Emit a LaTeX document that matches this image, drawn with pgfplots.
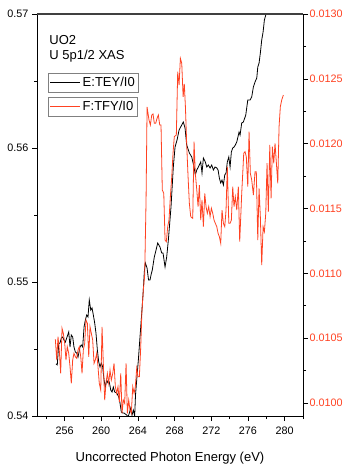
\documentclass[border=0pt]{standalone}
\usepackage{fontspec}
\setmainfont{Liberation Sans}
\usepackage{pgfplots}
\usepackage{pgfplotstable}
\pgfplotsset{compat=1.18}
\definecolor{tfyred}{RGB}{255,66,34}

% TEY/I0 (left axis)
\pgfplotstableread{
E      I
255.07 0.54388
255.21 0.54381
255.37 0.54540
255.51 0.54545
255.65 0.54582
255.80 0.54590
255.94 0.54567
256.09 0.54552
256.24 0.54582
256.46 0.54627
256.60 0.54515
256.74 0.54604
256.89 0.54590
257.03 0.54515
257.18 0.54478
257.33 0.54470
257.47 0.54440
257.69 0.54515
257.83 0.54530
257.98 0.54515
258.13 0.54664
258.27 0.54716
258.42 0.54754
258.56 0.54739
258.70 0.54866
258.86 0.54791
259.00 0.54806
259.14 0.54754
259.29 0.54694
259.43 0.54619
259.58 0.54493
259.73 0.54403
259.87 0.54366
260.01 0.54396
260.16 0.54366
260.31 0.54269
260.45 0.54216
260.60 0.54269
260.74 0.54246
260.88 0.54254
261.04 0.54194
261.18 0.54179
261.32 0.54216
261.47 0.54179
261.69 0.54172
261.91 0.54142
262.05 0.54097
262.19 0.54030
262.35 0.54022
262.49 0.54022
262.78 0.54007
262.92 0.53993
263.07 0.54022
263.22 0.54060
263.36 0.54007
263.50 0.54045
263.65 0.54000
263.74 0.54157
263.87 0.54269
264.05 0.54418
264.23 0.54590
264.42 0.54769
264.59 0.54940
264.70 0.55075
264.81 0.55142
265.00 0.55104
265.16 0.55015
265.32 0.55015
265.43 0.55052
265.57 0.55090
265.79 0.55187
265.98 0.55239
266.16 0.55291
266.41 0.55261
266.60 0.55216
266.74 0.55216
266.96 0.55112
267.14 0.55187
267.32 0.55313
267.61 0.55560
267.86 0.55858
268.05 0.56007
268.27 0.56060
268.49 0.56134
268.78 0.56172
268.95 0.56194
269.14 0.56149
269.32 0.56022
269.61 0.55963
269.87 0.55933
270.12 0.55858
270.26 0.55799
270.42 0.55836
270.59 0.55858
270.85 0.55896
270.99 0.55813
271.14 0.55925
271.35 0.55896
271.51 0.55858
271.68 0.55873
271.87 0.55851
272.05 0.55873
272.23 0.55836
272.41 0.55858
272.60 0.55851
272.74 0.55836
272.88 0.55776
273.03 0.55739
273.17 0.55761
273.32 0.55724
273.47 0.55799
273.61 0.55813
273.75 0.55896
273.91 0.55933
274.05 0.55858
274.19 0.55970
274.34 0.56000
274.48 0.56007
274.62 0.56022
274.78 0.56045
275.03 0.56119
275.14 0.56097
275.32 0.56187
275.50 0.56194
275.76 0.56246
275.98 0.56358
276.23 0.56358
276.41 0.56381
276.59 0.56455
276.77 0.56493
276.96 0.56522
277.07 0.56604
277.21 0.56634
277.35 0.56709
277.50 0.56806
277.65 0.56866
277.79 0.56955
277.97 0.57000
278.19 0.57060
}\teydata

% TFY/I0 (right axis)
\pgfplotstableread{
E      I
255.00 0.010491
255.15 0.010332
255.29 0.010511
255.43 0.010409
255.58 0.010229
255.73 0.010576
255.87 0.010538
256.02 0.010460
256.16 0.010332
256.30 0.010434
256.46 0.010383
256.60 0.010280
256.74 0.010152
256.89 0.010332
257.03 0.010383
257.18 0.010357
257.33 0.010345
257.47 0.010409
257.61 0.010434
257.77 0.010357
257.91 0.010229
258.05 0.010409
258.20 0.010460
258.34 0.010640
258.49 0.010615
258.64 0.010357
258.78 0.010588
258.92 0.010538
259.07 0.010486
259.22 0.010306
259.36 0.010332
259.51 0.010383
259.65 0.010280
259.79 0.010152
259.95 0.010100
260.09 0.010588
260.23 0.010306
260.38 0.010023
260.52 0.010152
260.67 0.010229
260.82 0.010152
260.96 0.010255
261.10 0.010177
261.26 0.010229
261.40 0.010306
261.54 0.010126
261.69 0.010075
261.83 0.010126
261.98 0.010010
262.13 0.010229
262.27 0.009921
262.41 0.010023
262.56 0.009998
262.71 0.010306
262.85 0.009921
263.00 0.010023
263.14 0.009946
263.28 0.009921
263.44 0.010126
263.58 0.010075
263.72 0.010126
263.87 0.010268
264.01 0.010203
264.16 0.010203
264.31 0.010434
264.43 0.010694
264.59 0.010871
264.74 0.010987
264.89 0.011566
265.00 0.012283
265.21 0.012183
265.36 0.012144
265.51 0.012221
265.65 0.012229
265.79 0.012157
265.94 0.012157
266.09 0.012196
266.23 0.012221
266.38 0.012144
266.52 0.012144
266.66 0.011643
266.82 0.011617
266.96 0.011257
267.10 0.011244
267.25 0.011360
267.39 0.011411
267.54 0.011591
267.69 0.011745
267.83 0.011926
267.97 0.012054
268.19 0.012067
268.34 0.012555
268.49 0.012452
268.63 0.012658
268.78 0.012620
268.93 0.012362
269.06 0.012460
269.18 0.012285
269.33 0.011977
269.47 0.011745
269.61 0.011540
269.76 0.011437
269.98 0.011424
270.12 0.012015
270.26 0.011771
270.42 0.011643
270.56 0.011514
270.70 0.011681
270.85 0.011411
270.99 0.011566
271.14 0.011360
271.29 0.011617
271.43 0.011514
271.57 0.011463
271.72 0.011514
271.87 0.011437
272.01 0.011502
272.16 0.011463
272.30 0.011411
272.44 0.011386
272.60 0.011360
272.74 0.011309
272.88 0.011283
273.03 0.011232
273.17 0.011488
273.32 0.011386
273.47 0.011360
273.61 0.011488
273.75 0.011822
273.91 0.011386
274.05 0.011386
274.19 0.011411
274.34 0.011668
274.48 0.011514
274.62 0.011591
274.78 0.011488
274.95 0.011668
275.10 0.011244
275.32 0.011617
275.54 0.011926
275.68 0.011938
275.82 0.011900
275.98 0.011668
276.12 0.012092
276.26 0.011771
276.41 0.011720
276.59 0.011604
276.77 0.011784
276.91 0.011784
277.07 0.011257
277.21 0.011656
277.35 0.011437
277.50 0.011064
277.65 0.011360
277.79 0.011321
277.94 0.011463
278.08 0.011849
278.22 0.011475
278.38 0.011990
278.52 0.011579
278.66 0.011977
278.81 0.011849
278.95 0.012003
279.10 0.011849
279.25 0.011694
279.39 0.012131
279.53 0.012285
279.68 0.012337
279.86 0.012375
}\tfydata

\pgfplotsset{
  xasframe/.style={
    at={(0pt,0pt)}, anchor=south west,
    scale only axis, width=266pt, height=402pt,
    xmin=253, xmax=282,
    tick align=outside,
    major tick length=5pt, minor tick length=3pt,
    scaled ticks=false,
    /pgf/number format/assume math mode=true,
    tick label style={font=\fontsize{10.8}{13}\selectfont},
    tick style={black, line width=0.6pt},
    axis line style={black, line width=0.7pt},
    legend image code/.code={\draw[#1] (0pt,0pt) -- (30pt,0pt);},
    legend cell align=left,
    clip mode=individual,
  },
  xaslegend/.style={
    draw=black!50, line width=0.6pt, font=\fontsize{13}{15}\selectfont,
    inner xsep=2pt, inner ysep=2pt,
  },
}

\begin{document}
\begin{tikzpicture}
\path[use as bounding box] (-37pt,-50pt) rectangle (306pt,416pt);

\begin{axis}[
  xasframe,
  ymin=0.54, ymax=0.57,
  xtick={256,260,...,280},
  minor xtick={254,258,...,282},
  ytick={0.54,0.55,0.56,0.57},
  minor ytick={0.545,0.555,0.565},
  xtick pos=left, ytick pos=left,
  xticklabel style={yshift=-2pt},
  yticklabel style={/pgf/number format/.cd, fixed, fixed zerofill, precision=2},
  xlabel={Uncorrected Photon Energy (eV)},
  xlabel style={at={(axis description cs:0.5,-0.112)}, anchor=base,
    font=\fontsize{13}{15}\selectfont},
  legend style={xaslegend, at={(axis description cs:0.040,0.853)}, anchor=north west},
]
\addplot[black, line width=0.8pt] table[x=E, y=I] {\teydata};
\addlegendentry{E:TEY/I0}
\node[anchor=base west, inner sep=0pt, font=\fontsize{13}{15}\selectfont]
  at (axis description cs:0.046,0.925) {UO2};
\node[anchor=base west, inner sep=0pt, font=\fontsize{13}{15}\selectfont]
  at (axis description cs:0.046,0.887) {U 5p1/2 XAS};
\end{axis}

\begin{axis}[
  xasframe,
  ymin=0.0099, ymax=0.0130,
  xtick=\empty,
  ytick={0.0100,0.0105,...,0.0131},
  minor ytick={0.01025,0.01075,0.01125,0.01175,0.01225,0.01275},
  ytick pos=right, yticklabel pos=right,
  yticklabel style={tfyred, xshift=-2pt,
    /pgf/number format/.cd, fixed, fixed zerofill, precision=4},
  legend style={xaslegend, at={(axis description cs:0.040,0.7935)}, anchor=north west},
]
\addplot[tfyred, line width=0.8pt] table[x=E, y=I] {\tfydata};
\addlegendentry{F:TFY/I0}
\draw[black!75, line width=1.6pt] (rel axis cs:0,1) -- (rel axis cs:1,1);
\end{axis}
\end{tikzpicture}
\end{document}
